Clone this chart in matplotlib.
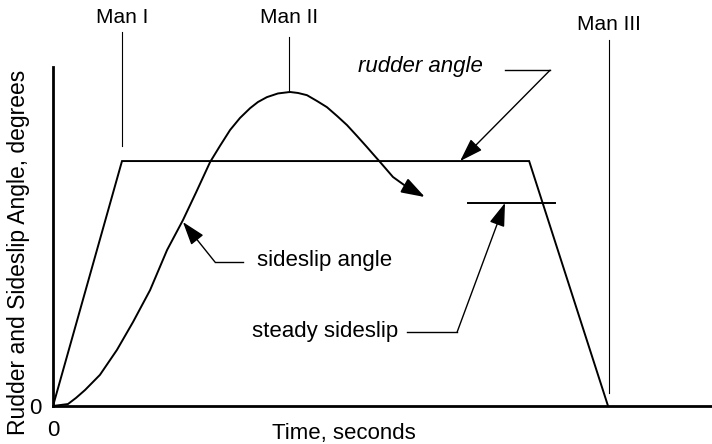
import matplotlib.pyplot as plt

plt.rcParams["font.family"] = ["Liberation Sans", "DejaVu Sans"]
plt.rcParams["font.size"] = 16

# === data (time units, degrees; schematic) ===
rudder_t = [0, 3.0, 20.7, 24.13]
rudder_a = [0, 10, 10, 0]

sideslip_t = [0, 0.65, 1.0, 1.39, 2.04, 2.78, 3.48, 4.22, 4.96, 5.65, 6.22, 6.83,
              7.26, 7.70, 8.13, 8.57, 8.91, 9.30, 9.78, 10.30, 10.65, 11.04, 11.48,
              11.91, 12.35, 12.78, 13.22, 13.65, 13.91, 14.22, 14.78, 15.09, 15.39]
sideslip_a = [0, 0.08, 0.33, 0.65, 1.27, 2.29, 3.43, 4.73, 6.37, 7.59, 8.72, 9.96,
              10.62, 11.27, 11.76, 12.16, 12.41, 12.61, 12.76, 12.82, 12.78, 12.69, 12.45,
              12.20, 11.84, 11.47, 11.02, 10.57, 10.29, 9.96, 9.35, 9.14, 8.94]
sideslip_end = (16.17, 8.53)

steady_a = 8.29
steady_t = (18.04, 21.83)

# maneuver markers: name, time, bottom, top, label baseline
maneuvers = [("Man I", 3.0, 10.6, 15.27, 15.63),
             ("Man II", 10.26, 12.82, 15.06, 15.63),
             ("Man III", 24.17, 0.53, 14.94, 15.35)]

# callouts: label, text pos, leader (start, corner), arrow tip, style
callouts = [("rudder angle", (13.26, 13.63), [(19.65, 13.71), (21.61, 13.71)], (17.70, 10.0), "italic"),
            ("sideslip angle", (8.87, 5.72), [(8.26, 5.88), (7.04, 5.88)], (5.65, 7.51), "normal"),
            ("steady sideslip", (8.65, 2.82), [(15.39, 3.02), (17.57, 3.02)], (19.65, steady_a), "normal")]

ARROW = "-|>,head_length=0.9,head_width=0.3"

# === plotting ===
fig = plt.figure(figsize=(7.12, 4.44), dpi=100)
ax = fig.add_axes([53 / 712, 38 / 444, 659 / 712, 339 / 444])
ax.set_xlim(0, 28.65)
ax.set_ylim(0, 13.84)

ax.plot(rudder_t, rudder_a, color="black", lw=1.4, solid_joinstyle="miter")
ax.plot(sideslip_t, sideslip_a, color="black", lw=1.4,
        solid_joinstyle="round", solid_capstyle="round")
ax.annotate("", xy=sideslip_end, xytext=(sideslip_t[-1], sideslip_a[-1]),
            arrowprops=dict(arrowstyle=ARROW, color="black", lw=1.4,
                            mutation_scale=16, shrinkA=0, shrinkB=0))
ax.plot(steady_t, [steady_a, steady_a], color="black", lw=1.4)

for name, t, lo, hi, base in maneuvers:
    ax.plot([t, t], [lo, hi], color="black", lw=0.8, clip_on=False)
    ax.text(t, base, name, ha="center", va="baseline", fontsize=15)

for label, pos, leader, tip, style in callouts:
    ax.text(pos[0], pos[1], label, ha="left", va="baseline", style=style, fontsize=16)
    ax.plot([p[0] for p in leader], [p[1] for p in leader], color="black", lw=1.0)
    ax.annotate("", xy=tip, xytext=leader[-1],
                arrowprops=dict(arrowstyle=ARROW, color="black", lw=1.0,
                                mutation_scale=16, shrinkA=0, shrinkB=0))

# axes: only left and bottom lines, a single 0 tick on each
for side in ("top", "right"):
    ax.spines[side].set_visible(False)
ax.spines["left"].set_linewidth(2)
ax.spines["bottom"].set_linewidth(2)
ax.set_xticks([0])
ax.set_yticks([0])
ax.tick_params(length=0, labelsize=16)
ax.tick_params(axis="x", pad=10)
ax.tick_params(axis="y", pad=8)

ax.set_xlabel("Time, seconds", fontsize=16)
ax.xaxis.set_label_coords(0.4416, -0.05)
ax.set_ylabel("Rudder and Sideslip Angle, degrees", fontsize=16.5)
ax.yaxis.set_label_coords(-0.035, 0.454)

fig.savefig("out.png", dpi=100)
